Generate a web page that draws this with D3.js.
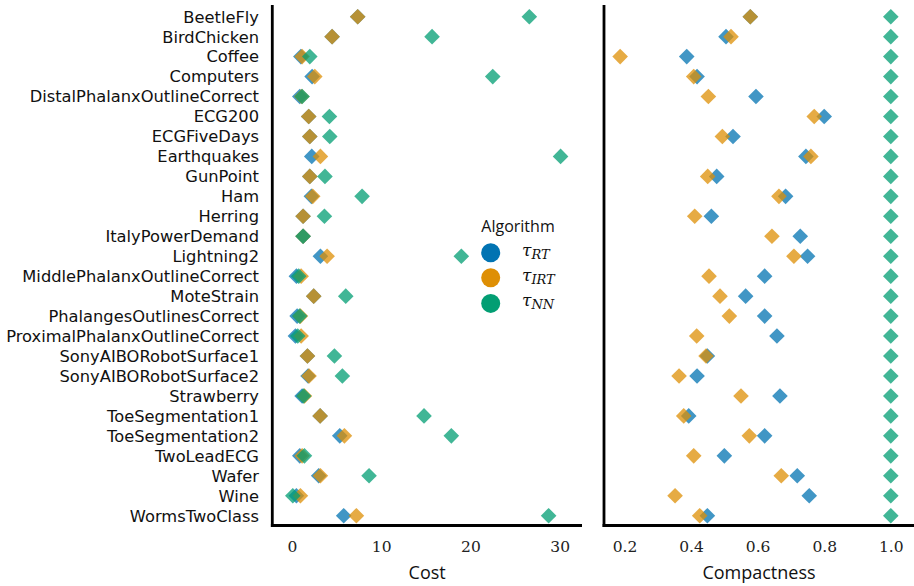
<!DOCTYPE html>
<html>
<head>
<meta charset="utf-8">
<script src="https://cdn.jsdelivr.net/npm/d3@7"></script>
<style>
  html, body { margin: 0; padding: 0; background: #fff; }
  svg { display: block; }
</style>
</head>
<body>
<svg id="chart" width="914" height="586"></svg>
<script>
// UCR datasets, one row per dataset
const categories = [
  "BeetleFly", "BirdChicken", "Coffee", "Computers", "DistalPhalanxOutlineCorrect",
  "ECG200", "ECGFiveDays", "Earthquakes", "GunPoint", "Ham", "Herring",
  "ItalyPowerDemand", "Lightning2", "MiddlePhalanxOutlineCorrect", "MoteStrain",
  "PhalangesOutlinesCorrect", "ProximalPhalanxOutlineCorrect", "SonyAIBORobotSurface1",
  "SonyAIBORobotSurface2", "Strawberry", "ToeSegmentation1", "ToeSegmentation2",
  "TwoLeadECG", "Wafer", "Wine", "WormsTwoClass"
];

// Cost per algorithm
const costRT  = [7.37, 4.5, 1.0, 2.26, 0.88, 1.88, 2.0, 2.22, 2.0, 2.18, 1.25, 1.25, 3.19,
                 0.5, 2.44, 0.58, 0.39, 1.74, 1.81, 1.14, 3.16, 5.36, 0.88, 3.0, 0.5, 5.8];
const costIRT = [7.37, 4.5, 1.14, 2.56, 1.1, 1.88, 2.0, 3.19, 2.0, 2.33, 1.25, 1.25, 3.94,
                 1.03, 2.44, 0.95, 1.03, 1.74, 1.92, 1.4, 3.16, 5.88, 1.14, 3.19, 0.95, 7.22];
const costNN  = [26.6, 15.7, 2.0, 22.5, 1.14, 4.2, 4.24, 30.1, 3.7, 7.86, 3.64, 1.25, 18.98,
                 0.76, 6.03, 0.87, 0.65, 4.76, 5.65, 1.32, 14.8, 17.86, 1.4, 8.64, 0.1, 28.76];

// Compactness per algorithm
const compRT  = [0.578, 0.505, 0.387, 0.418, 0.595, 0.80, 0.526, 0.745, 0.477, 0.684, 0.461,
                 0.728, 0.75, 0.621, 0.564, 0.621, 0.658, 0.449, 0.418, 0.667, 0.393, 0.621,
                 0.50, 0.719, 0.755, 0.449];
const compIRT = [0.578, 0.52, 0.187, 0.408, 0.452, 0.77, 0.494, 0.76, 0.45, 0.664, 0.411,
                 0.643, 0.709, 0.454, 0.487, 0.515, 0.417, 0.445, 0.364, 0.55, 0.378, 0.575,
                 0.408, 0.671, 0.352, 0.426];
const compNN  = categories.map(() => 1.0);

const costTicks = [0, 10, 20, 30];
const compTicks = [0.2, 0.4, 0.6, 0.8, 1.0];

const algorithms = [
  { key: "RT",  sub: "RT",  color: "#0173b2" },
  { key: "IRT", sub: "IRT", color: "#de8f05" },
  { key: "NN",  sub: "NN",  color: "#029e73" }
];

const svg = d3.select("#chart");
const labelFont = "'DejaVu Sans', 'Open Sans', sans-serif";
const sansFont = "'Open Sans', Lato, 'DejaVu Sans', sans-serif";
const serifFont = "'DejaVu Serif', 'Liberation Serif', serif";

const plotTop = 5, plotBottom = 525.5;
const y = d3.scalePoint().domain(categories).range([16.7, 515.7]);

const panels = [
  { title: "Cost", left: 272.3, right: 582, domain: [-2.2, 32.5],
    ticks: costTicks, fmt: d3.format("d"),
    series: [costRT, costIRT, costNN] },
  { title: "Compactness", left: 604, right: 914, domain: [0.1385, 1.0697],
    ticks: compTicks, fmt: d3.format(".1f"),
    series: [compRT, compIRT, compNN] }
];

// Category labels on the left
svg.append("g").selectAll("text")
  .data(categories).join("text")
  .attr("x", 259)
  .attr("y", d => y(d))
  .attr("dy", "0.36em")
  .attr("text-anchor", "end")
  .attr("font-family", labelFont)
  .attr("font-size", 16.3)
  .attr("fill", "#111")
  .text(d => d);

const diamond = d3.symbol().type(d3.symbolSquare).size(122);

panels.forEach(p => {
  const x = d3.scaleLinear().domain(p.domain).range([p.left, p.right]);
  const g = svg.append("g");

  // markers: one layer per algorithm, later layers drawn on top
  p.series.forEach((vals, si) => {
    g.append("g").selectAll("path")
      .data(vals).join("path")
      .attr("d", diamond)
      .attr("transform", (v, i) => `translate(${x(v)},${y(categories[i])}) rotate(45)`)
      .attr("fill", algorithms[si].color)
      .attr("fill-opacity", 0.75);
  });

  // axis with tick labels only
  const axis = d3.axisBottom(x).tickValues(p.ticks).tickFormat(p.fmt).tickSize(0).tickPadding(15);
  const ax = g.append("g").attr("transform", `translate(0,${plotBottom})`).call(axis);
  ax.select(".domain").remove();
  ax.selectAll("text")
    .attr("font-family", serifFont)
    .attr("font-size", 15.5)
    .attr("fill", "#222");

  // spines
  g.append("line")
    .attr("x1", p.left).attr("x2", p.left)
    .attr("y1", plotTop).attr("y2", plotBottom + 1.4)
    .attr("stroke", "#000").attr("stroke-width", 2.8);
  g.append("line")
    .attr("x1", p.left - 1.4).attr("x2", p.right)
    .attr("y1", plotBottom).attr("y2", plotBottom)
    .attr("stroke", "#000").attr("stroke-width", 2.8);

  g.append("text")
    .attr("x", (p.left + p.right) / 2)
    .attr("y", 579)
    .attr("text-anchor", "middle")
    .attr("font-family", sansFont)
    .attr("font-size", 18)
    .attr("fill", "#111")
    .text(p.title);
});

// Legend
const leg = svg.append("g");
leg.append("text")
  .attr("x", 518).attr("y", 232)
  .attr("text-anchor", "middle")
  .attr("font-family", sansFont)
  .attr("font-size", 16)
  .attr("fill", "#111")
  .text("Algorithm");

const legY = [252.7, 277.7, 303.4];
algorithms.forEach((a, i) => {
  leg.append("circle")
    .attr("cx", 490.7).attr("cy", legY[i]).attr("r", 9.5)
    .attr("fill", a.color);
  const t = leg.append("text")
    .attr("x", 522).attr("y", legY[i] + 3)
    .attr("font-family", serifFont)
    .attr("font-style", "italic")
    .attr("fill", "#111");
  t.append("tspan").attr("font-size", 17).text("τ");
  t.append("tspan").attr("font-size", 13).attr("dy", 3).text(a.sub);
});
</script>
</body>
</html>
